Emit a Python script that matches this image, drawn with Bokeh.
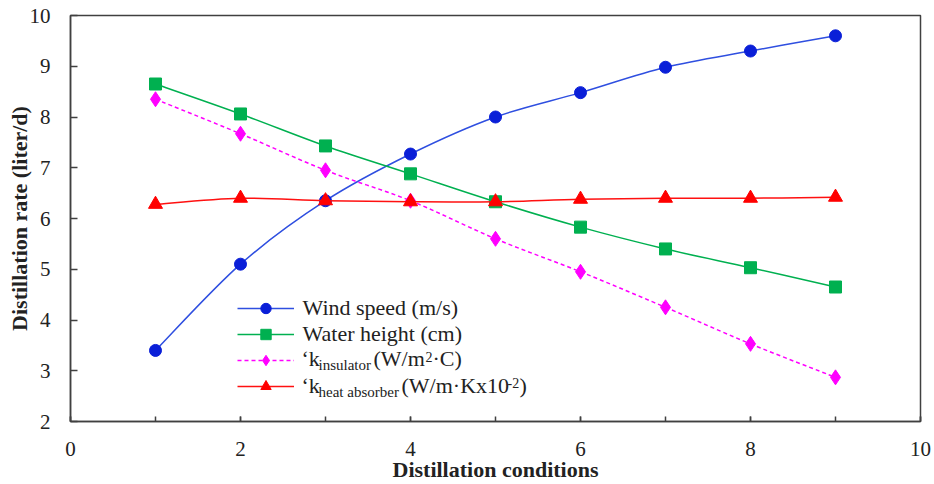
import numpy as np
from bokeh.plotting import figure
from bokeh.models import (ColumnDataSource, Legend, LegendItem, Label,
                          SingleIntervalTicker, Range1d)
from bokeh.embed import file_html
from bokeh.resources import INLINE

# ---- data ----
conditions = [1, 2, 3, 4, 5, 6, 7, 8, 9]
wind_speed = [3.40, 5.10, 6.35, 7.27, 8.00, 8.48, 8.98, 9.30, 9.60]
water_height = [8.65, 8.06, 7.43, 6.88, 6.33, 5.83, 5.40, 5.03, 4.65]
k_insulator = [8.35, 7.67, 6.95, 6.35, 5.60, 4.95, 4.25, 3.53, 2.87]
k_absorber = [6.28, 6.40, 6.35, 6.33, 6.33, 6.38, 6.40, 6.40, 6.42]

FONT = "serif"

p = figure(width=934, height=484, output_backend="svg", toolbar_location=None,
           x_range=Range1d(0, 10), y_range=Range1d(2, 10),
           min_border_left=70, min_border_right=14, min_border_top=15,
           min_border_bottom=63)
p.grid.visible = False
p.outline_line_color = "#404040"
p.outline_line_width = 1.5
p.background_fill_color = "white"
p.border_fill_color = "white"


def smooth_segments(xs, ys):
    xs = np.asarray(xs, float)
    ys = np.asarray(ys, float)
    n = len(xs)
    xp = np.concatenate([[xs[0]], xs, [xs[-1]]])
    yp = np.concatenate([[ys[0]], ys, [ys[-1]]])
    d = dict(x0=[], y0=[], x1=[], y1=[], cx0=[], cy0=[], cx1=[], cy1=[])
    for i in range(n - 1):
        a, b, c, e = i, i + 1, i + 2, i + 3
        d["x0"].append(xp[b]); d["y0"].append(yp[b])
        d["x1"].append(xp[c]); d["y1"].append(yp[c])
        d["cx0"].append(xp[b] + (xp[c] - xp[a]) / 6.0)
        d["cy0"].append(yp[b] + (yp[c] - yp[a]) / 6.0)
        d["cx1"].append(xp[c] - (xp[e] - xp[b]) / 6.0)
        d["cy1"].append(yp[c] - (yp[e] - yp[b]) / 6.0)
    return ColumnDataSource(d)


series = [
    (wind_speed, "#2f4fe0", "#0a1fd8", "circle", 12, "solid"),
    (water_height, "#00b050", "#00b050", "square", 12, "solid"),
    (k_insulator, "#ff00ff", "#ff00ff", "diamond", 15, "4 3"),
    (k_absorber, "#ff1010", "#ff0000", "triangle", 14, "solid"),
]

items = []
for vals, lc, mc, marker, size, dash in series:
    src = smooth_segments(conditions, vals)
    p.bezier(x0="x0", y0="y0", x1="x1", y1="y1", cx0="cx0", cy0="cy0",
             cx1="cx1", cy1="cy1", source=src, line_color=lc, line_width=1.5,
             line_dash=dash)
    sc = p.scatter(conditions, vals, marker=marker, size=size,
                   fill_color=mc, line_color=mc)
    # legend-only line sample (NaN point, draws nothing on the plot)
    lr = p.line(x=[np.nan], y=[np.nan], line_color=lc, line_width=1.5,
                line_dash=dash)
    items.append(LegendItem(label=" ", renderers=[lr, sc]))

legend = Legend(items=items, location=(167, 22), orientation="vertical",
                label_text_font=FONT, label_text_font_size="12px",
                glyph_width=57, glyph_height=26, label_height=20,
                label_standoff=0, spacing=0, padding=0, margin=0,
                border_line_color=None, background_fill_alpha=0)
p.add_layout(legend, "center")

# legend texts with subscripts / superscripts (screen units from frame)
pieces = [
    # text, x, y (baseline above frame bottom), size
    ("Wind speed (m/s)", 232, 107, 22),
    ("Water height (cm)", 232, 81, 22),
    ("\u2018k", 231, 56, 22),
    ("insulator", 248, 53, 15),
    ("(W/m", 303, 56, 22),
    ("2", 355, 61, 14),
    ("\u00b7C)", 362, 56, 22),
    ("\u2018k", 231, 29, 22),
    ("heat absorber", 248, 26, 15),
    ("(W/m\u00b7Kx10", 331, 29, 22),
    ("-2", 437, 35, 14),
    (")", 449, 29, 22),
]
for t, x, y, s in pieces:
    p.add_layout(Label(x=x, y=y + round(0.3 * s), x_units="screen",
                       y_units="screen", text=t,
                       text_font=FONT, text_font_size=f"{s}px",
                       text_color="#222222", text_baseline="alphabetic"))

# axes
xa = p.xaxis[0]
xa.ticker = SingleIntervalTicker(interval=2, num_minor_ticks=2)
xa.major_tick_in = 5
xa.major_tick_out = 0
xa.minor_tick_in = 5
xa.minor_tick_out = 0
xa.major_label_standoff = 20
xa.axis_label = "Distillation conditions"
xa.axis_label_standoff = -2
ya = p.yaxis[0]
ya.ticker = SingleIntervalTicker(interval=1, num_minor_ticks=0)
ya.major_tick_in = 7
ya.major_tick_out = 0
ya.minor_tick_in = 0
ya.minor_tick_out = 0
ya.major_label_standoff = 20
ya.axis_label = "Distillation rate (liter/d)"
ya.axis_label_standoff = -5
for ax in (xa, ya):
    ax.axis_line_color = "#404040"
    ax.axis_line_width = 1.5
    ax.major_tick_line_color = "#404040"
    ax.major_tick_line_width = 1.5
    ax.minor_tick_line_color = "#404040"
    ax.minor_tick_line_width = 1.5
    ax.major_label_text_font = FONT
    ax.major_label_text_font_size = "21px"
    ax.major_label_text_color = "#222222"
    ax.axis_label_text_font = FONT
    ax.axis_label_text_font_size = "22px"
    ax.axis_label_text_font_style = "bold"
    ax.axis_label_text_color = "#222222"

open("out.html", "w").write(file_html(p, INLINE))
